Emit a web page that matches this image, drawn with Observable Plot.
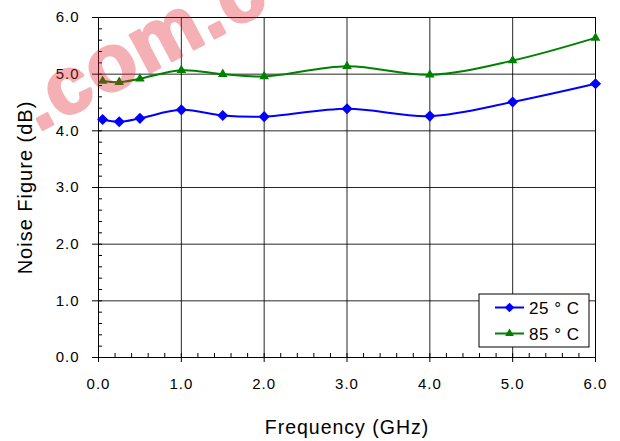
<!DOCTYPE html>
<html><head><meta charset="utf-8">
<script src="https://cdn.jsdelivr.net/npm/d3@7"></script>
<script src="https://cdn.jsdelivr.net/npm/@observablehq/plot@0.6"></script>
<style>
body{margin:0;background:#fff}
#chart{position:relative;width:620px;height:441px;overflow:hidden}
</style>
</head><body><div id="chart"></div>
<script>
const freqGHz = [0.05, 0.25, 0.5, 1.0, 1.5, 2.0, 3.0, 4.0, 5.0, 6.0];
const nf25C  = [4.20, 4.16, 4.22, 4.37, 4.27, 4.25, 4.39, 4.26, 4.51, 4.83];
const nf85C  = [4.88, 4.86, 4.92, 5.07, 5.00, 4.96, 5.14, 4.99, 5.24, 5.64];
const seriesLabels = ["25 ° C", "85 ° C"];
const seriesColors = ["#0000ff", "#008000"];
const xTicks = [0, 1, 2, 3, 4, 5, 6];
const yTicks = [0, 1, 2, 3, 4, 5, 6];
const minorTicks = d3.range(31).map(i => i * 0.2);
const xTitle = "Frequency (GHz)";
const yTitle = "Noise Figure (dB)";
const watermark = ".com.c";

const rows25 = freqGHz.map((f, i) => ({f, v: nf25C[i]}));
const rows85 = freqGHz.map((f, i) => ({f, v: nf85C[i]}));
const fmt = d => d.toFixed(1);
const FONT = "'Liberation Sans', Arial, sans-serif";

const chart = Plot.plot({
  width: 620, height: 441,
  marginLeft: 98, marginRight: 25, marginTop: 17, marginBottom: 84,
  x: {domain: [0, 6]},
  y: {domain: [0, 6]},
  style: {fontFamily: FONT, fontSize: "15px", color: "#000", background: "#fff"},
  marks: [
    Plot.gridX(xTicks, {stroke: "#000", strokeOpacity: 0.85}),
    Plot.gridY(yTicks, {stroke: "#000", strokeOpacity: 0.85}),
    Plot.axisX({ticks: minorTicks, tickSize: -4, tickFormat: () => "", label: null}),
    Plot.axisY({ticks: minorTicks, tickSize: -4, tickFormat: () => "", label: null}),
    Plot.axisX({ticks: xTicks, tickSize: 5, tickPadding: 16, tickFormat: fmt, label: null, fontSize: 15}),
    Plot.axisY({ticks: yTicks, tickSize: 6, tickPadding: 13, tickFormat: fmt, label: null, fontSize: 15}),
    Plot.frame({stroke: "#000"}),
    Plot.line(rows25, {x: "f", y: "v", stroke: seriesColors[0], strokeWidth: 2, curve: "catmull-rom"}),
    Plot.line(rows85, {x: "f", y: "v", stroke: seriesColors[1], strokeWidth: 2, curve: "catmull-rom"}),
    Plot.dot(rows25, {x: "f", y: "v", symbol: "diamond2", r: 5, fill: seriesColors[0], stroke: null}),
    Plot.dot(rows85, {x: "f", y: "v", symbol: "triangle2", r: 4.6, fill: seriesColors[1], stroke: null}),
    Plot.text([xTitle], {frameAnchor: "bottom", lineAnchor: "middle", textAnchor: "middle", dy: 70, fontSize: 19.5, fill: "#000"}),
    Plot.text([yTitle], {frameAnchor: "left", lineAnchor: "middle", textAnchor: "middle", dx: -73, rotate: -90, fontSize: 20, fill: "#000"})
  ]
});
chart.querySelectorAll("text").forEach(t => t.style.letterSpacing = "1px");
document.getElementById("chart").appendChild(chart);

// legend (inside plot, bottom-right)
const svg = d3.select(chart);
const lg = svg.append("g").attr("transform", "translate(479,294)");
lg.append("rect").attr("width", 110).attr("height", 53).attr("fill", "#fff").attr("stroke", "#000");
seriesLabels.forEach((lab, i) => {
  const y = 13.5 + i * 26;
  lg.append("line").attr("x1", 16).attr("x2", 45).attr("y1", y).attr("y2", y)
    .attr("stroke", seriesColors[i]).attr("stroke-width", 2);
  lg.append("path").attr("transform", `translate(30.5,${y})`)
    .attr("d", d3.symbol(i === 0 ? d3.symbolDiamond2 : d3.symbolTriangle2, i === 0 ? 60 : 55)())
    .attr("fill", seriesColors[i]);
  lg.append("text").attr("x", 50).attr("y", y).attr("dy", "0.36em")
    .attr("text-anchor", "start")
    .attr("font-family", FONT).attr("font-size", 17)
    .style("letter-spacing", "0.5px")
    .text(lab);
});

// watermark overlay
svg.append("g").attr("opacity", 0.36).attr("pointer-events", "none")
  .append("text").attr("transform", "translate(38,132) rotate(-28)")
  .attr("text-anchor", "start")
  .attr("font-family", FONT).attr("font-weight", "bold")
  .attr("font-size", 80).attr("fill", "rgb(225,40,50)")
  .attr("stroke", "rgb(225,40,50)").attr("stroke-width", 3).attr("stroke-linejoin", "round")
  .style("letter-spacing", "2px")
  .text(watermark);
</script>
</body></html>
